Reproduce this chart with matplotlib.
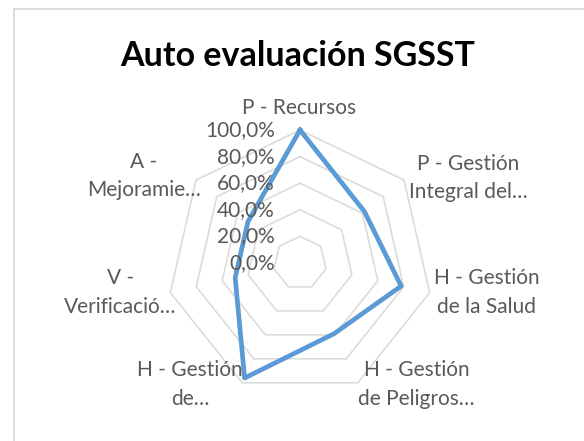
import numpy as np
import matplotlib
matplotlib.use("Agg")
import matplotlib.pyplot as plt
from matplotlib.lines import Line2D

# --- data -------------------------------------------------------------
categories = [
    "P - Recursos",
    "P - Gestión\nIntegral del…",
    "H - Gestión\nde la Salud",
    "H - Gestión\nde Peligros…",
    "H - Gestión\nde…",
    "V -\nVerificació…",
    "A -\nMejoramie…",
]
scores = [1.00, 0.62, 0.78, 0.59, 0.96, 0.50, 0.50]
ring_levels = [0.2, 0.4, 0.6, 0.8, 1.0]
tick_levels = [0.0, 0.2, 0.4, 0.6, 0.8, 1.0]
tick_labels = ["0,0%", "20,0%", "40,0%", "60,0%", "80,0%", "100,0%"]

# --- style ------------------------------------------------------------
W, H, DPI = 584, 441, 100
FONT = "Lato"
TEXT_GRAY = "#595959"
GRID_GRAY = "#d9d9d9"
LINE_BLUE = "#5b9bd5"
LABEL_SIZE = 15

fig = plt.figure(figsize=(W / DPI, H / DPI), dpi=DPI)
fig.patch.set_facecolor("white")

# chart area border (light gray frame)
fx = 13.5 / W
fy = 1 - 9.0 / H
fig.add_artist(Line2D([fx, fx], [0, fy], transform=fig.transFigure,
                      color=GRID_GRAY, lw=1.3))
fig.add_artist(Line2D([fx, 1], [fy, fy], transform=fig.transFigure,
                      color=GRID_GRAY, lw=1.3))

fig.text(298 / W, 1 - 56 / H, "Auto evaluación SGSST", ha="center",
         va="center", fontsize=24.5, fontweight="bold", color="black",
         family=FONT)

# radar plot area: center (300, 263) px, radius 133 px
cx, cy, R = 300, 263, 133
ax = fig.add_axes([(cx - R) / W, (H - cy - R) / H, 2 * R / W, 2 * R / H],
                  projection="polar")
ax.set_theta_zero_location("N")
ax.set_theta_direction(-1)
ax.set_ylim(0, 1)
ax.grid(False)
ax.set_xticks([])
ax.set_yticks([])
ax.spines["polar"].set_visible(False)
ax.patch.set_visible(False)

n = len(categories)
theta = np.arange(n) * 2 * np.pi / n
theta_closed = np.append(theta, theta[0])

# heptagonal grid rings
for lvl in ring_levels:
    ax.plot(theta_closed, [lvl] * (n + 1), color=GRID_GRAY, lw=1.1,
            zorder=1, clip_on=False)

# series
vals = np.append(scores, scores[0])
ax.plot(theta_closed, vals, color=LINE_BLUE, lw=3.4, zorder=3,
        solid_joinstyle="round", clip_on=False)

# value-axis labels along the vertical axis
for lvl, lab in zip(tick_levels, tick_labels):
    ax.annotate(lab, xy=(0, lvl), xytext=(-25, 0), textcoords="offset pixels",
                ha="right", va="center", fontsize=LABEL_SIZE, color=TEXT_GRAY,
                family=FONT, annotation_clip=False, zorder=4)

# category labels, offset outward from each outer vertex
label_offsets = [(-1, 22), (64, 2), (57, 0), (59, -2), (-52, -2),
                 (-50, 0), (-52, 4)]
for t, lab, off in zip(theta, categories, label_offsets):
    ax.annotate(lab, xy=(t, 1.0), xytext=off, textcoords="offset pixels",
                ha="center", va="center", multialignment="center",
                fontsize=LABEL_SIZE, color=TEXT_GRAY, family=FONT,
                linespacing=1.55, annotation_clip=False, zorder=4)

fig.savefig("out.png", dpi=DPI, facecolor="white")
